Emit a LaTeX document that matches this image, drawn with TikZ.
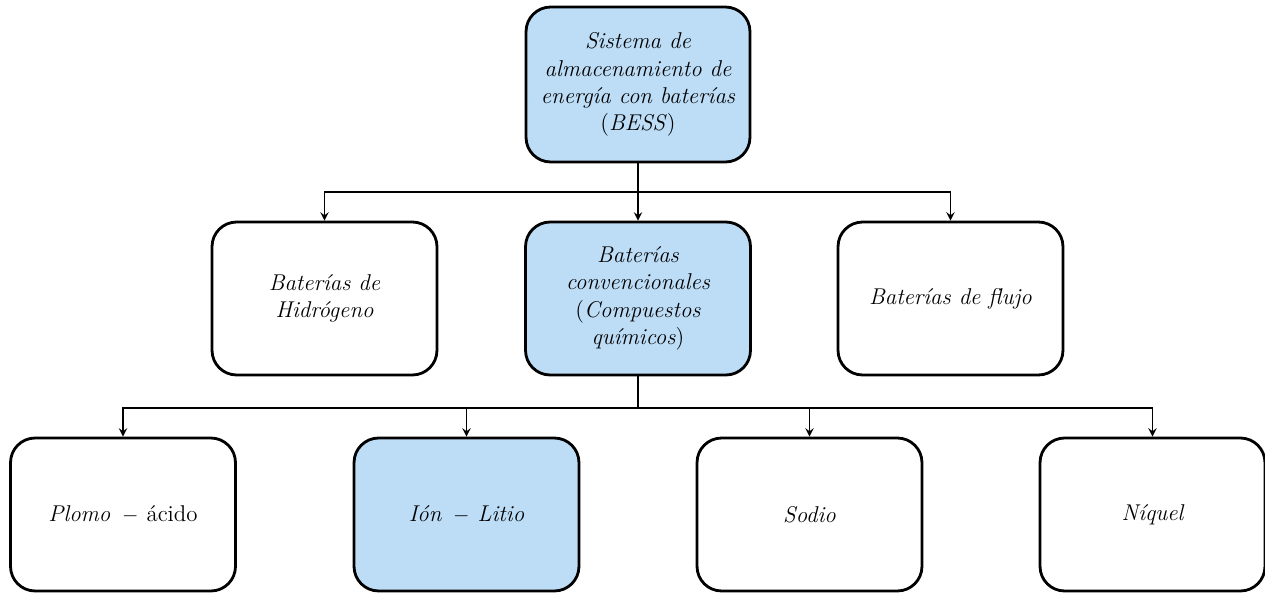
\documentclass[tikz,border=0pt]{standalone}
\definecolor{azulclaro}{RGB}{189,221,247}
\begin{document}
\begin{tikzpicture}[x=0.02cm,y=-0.02cm,
		caja/.style={draw, line width=1.6pt, rounded corners=14pt, minimum width=4.5cm, minimum height=3.06cm, align=center, font=\fontsize{13}{15.5}\selectfont\itshape},
		azul/.style={caja, fill=azulclaro},
		flecha/.style={-stealth, line width=1.1pt}]
		\useasboundingbox (0,0) rectangle (1265,592);
		% nivel 1
		\node[azul, minimum width=4.48cm, minimum height=3.1cm] (bess) at (638,84.5) {Sistema de\\ almacenamiento de\\ energía con baterías\\ \textup{(}BESS\textup{)}};
		% nivel 2
		\node[caja] (hidro) at (324.5,298.5) {Baterías de\\ Hidrógeno};
		\node[azul] (conv) at (638,298.5) {Baterías\\ convencionales\\ \textup{(}Compuestos\\ químicos\textup{)}};
		\node[caja] (flujo) at (950.5,298.5) {Baterías de flujo};
		% nivel 3
		\node[caja] (plomo) at (123,514.5) {Plomo \,$-$ \textup{ácido}};
		\node[azul] (litio) at (466.5,514.5) {Ión \,$-$ Litio};
		\node[caja] (sodio) at (809.5,514.5) {Sodio};
		\node[caja] (niquel) at (1152.5,514.5) {Níquel};
		% conectores
		\coordinate (j1) at (638,192);
		\coordinate (j2) at (638,408);
		\draw[flecha] (bess.south) -- (j1) -| (hidro.north);
		\draw[flecha] (j1) -| (flujo.north);
		\draw[flecha] (j1) -- (conv.north);
		\draw[flecha] (conv.south) -- (j2) -| (plomo.north);
		\draw[flecha] (j2) -| (litio.north);
		\draw[flecha] (j2) -| (sodio.north);
		\draw[flecha] (j2) -| (niquel.north);
	\end{tikzpicture}
\end{document}
